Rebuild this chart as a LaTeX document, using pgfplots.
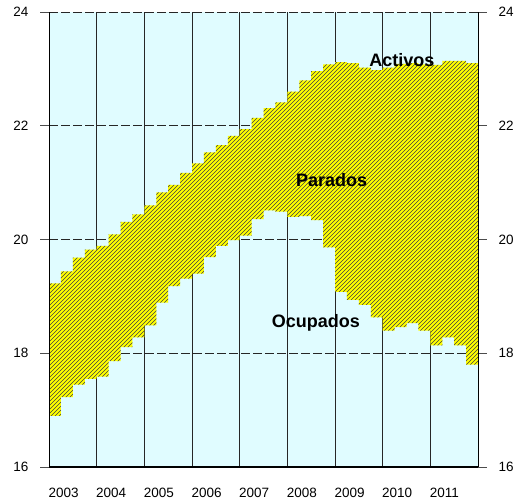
\documentclass[border=0pt]{standalone}
\usepackage{fontspec}
\setmainfont{Liberation Sans}
\usepackage{pgfplots}
\usepackage{pgfplotstable}
\pgfplotsset{compat=1.18}
\usepgfplotslibrary{fillbetween}
\usetikzlibrary{patterns.meta}
\definecolor{bgcyan}{RGB}{224,252,255}
\definecolor{hatchy}{RGB}{255,255,0}

\pgfplotstableread{
x act ocu
2003.00 19.23 16.90
2003.25 19.44 17.23
2003.50 19.68 17.45
2003.75 19.82 17.55
2004.00 19.89 17.59
2004.25 20.09 17.86
2004.50 20.31 18.11
2004.75 20.44 18.28
2005.00 20.60 18.49
2005.25 20.83 18.89
2005.50 20.96 19.18
2005.75 21.17 19.31
2006.00 21.34 19.40
2006.25 21.53 19.69
2006.50 21.66 19.89
2006.75 21.82 19.99
2007.00 21.94 20.07
2007.25 22.14 20.36
2007.50 22.31 20.51
2007.75 22.41 20.49
2008.00 22.60 20.40
2008.25 22.80 20.41
2008.50 22.96 20.34
2008.75 23.08 19.86
2009.00 23.12 19.08
2009.25 23.10 18.94
2009.50 23.02 18.85
2009.75 22.98 18.63
2010.00 23.02 18.40
2010.25 23.09 18.46
2010.50 23.10 18.53
2010.75 23.08 18.40
2011.00 23.07 18.14
2011.25 23.14 18.28
2011.50 23.14 18.14
2011.75 23.10 17.80
2012.00 23.10 17.80
}\datatable

\begin{document}
\begin{tikzpicture}
\begin{axis}[
  scale only axis, width=429bp, height=455bp,
  xmin=2003, xmax=2012, ymin=16, ymax=24,
  xtick={2003,2004,2005,2006,2007,2008,2009,2010,2011},
  xticklabels={2003,2004,2005,2006,2007,2008,2009,2010,2011},
  ytick={16,18,20,22,24},
  ytick pos=left,
  tick align=outside,
  major tick length=9bp,
  xtick style={draw=none},
  ytick style={black!70, line width=0.7pt},
  /pgf/number format/assume math mode=true,
  ticklabel style={font=\fontsize{13.5bp}{15bp}\selectfont},
  xticklabel style={anchor=north west, xshift=-4bp, yshift=-9bp},
  yticklabel style={xshift=-8bp},
  axis line style={draw=none},
  axis background/.style={fill=bgcyan},
  xmajorgrids, ymajorgrids,
  x grid style={black!85, line width=0.7pt},
  y grid style={black!85, line width=0.7pt, dash pattern=on 9bp off 3bp},
]
\addplot[name path=A, const plot, draw=none] table[x=x, y=act] {\datatable};
\addplot[name path=B, const plot, draw=none] table[x=x, y=ocu] {\datatable};
\addplot[fill=hatchy, draw=none] fill between[of=A and B];
\addplot[draw=none, pattern={Lines[angle=45, distance=2.8284bp, line width=0.45bp]}, pattern color=black!75] fill between[of=A and B];
\node[anchor=base, font=\bfseries\fontsize{18bp}{20bp}\selectfont] at (axis cs:2010.405,23.04) {Activos};
\node[anchor=base, font=\bfseries\fontsize{18bp}{20bp}\selectfont] at (axis cs:2008.93,20.94) {Parados};
\node[anchor=base, font=\bfseries\fontsize{18bp}{20bp}\selectfont] at (axis cs:2008.60,18.45) {Ocupados};
\end{axis}
\begin{axis}[
  scale only axis, width=429bp, height=455bp,
  xmin=2003, xmax=2012, ymin=16, ymax=24,
  xtick=\empty,
  ytick={16,18,20,22,24},
  ytick pos=right, yticklabel pos=right,
  tick align=outside,
  major tick length=9bp,
  ytick style={black!70, line width=0.7pt},
  /pgf/number format/assume math mode=true,
  ticklabel style={font=\fontsize{13.5bp}{15bp}\selectfont},
  yticklabel style={xshift=8bp},
  axis line style={draw=none},
]
\end{axis}
\draw[black, line width=0.8pt] (current axis.south west) -- (current axis.north west);
\draw[black, line width=0.8pt] (current axis.south east) -- (current axis.north east);
\draw[black, line width=1.6pt] (current axis.south west) -- (current axis.south east);
\pgfresetboundingbox
\path ([shift={(-49bp,-36bp)}]current axis.south west) rectangle ([shift={(40bp,12bp)}]current axis.north east);
\end{tikzpicture}
\end{document}
